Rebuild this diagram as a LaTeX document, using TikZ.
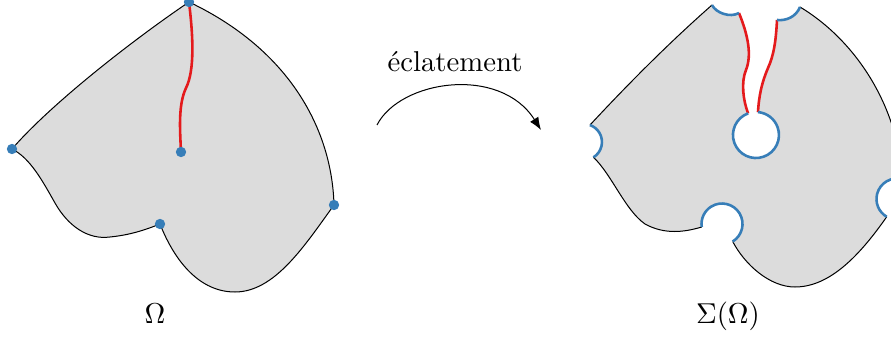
\documentclass[tikz,border=0pt]{standalone}
\usetikzlibrary{arrows.meta}
\definecolor{myblue}{HTML}{377EB8}
\definecolor{myred}{HTML}{E41A1C}
\definecolor{regiongrey}{HTML}{DCDCDC}
\begin{document}
\begin{tikzpicture}[x=0.348pt,y=-0.348pt,
  edge/.style={black,line width=0.35pt},
  cut/.style={myred,line width=0.9pt},
  rim/.style={myblue,line width=0.9pt},
  region/.style={fill=regiongrey},
  dot/.style={circle,fill=myblue,inner sep=0pt,minimum size=3.6pt},
  lbl/.style={inner sep=0pt}]
\clip (0,0) rectangle (891,340);
% ---------- left shape Omega ----------
\path[region] (189,2) .. controls (130,42) and (50,105) .. (12,149)
  .. controls (30,158) and (42,180) .. (55,203)
  .. controls (68,226) and (88,240) .. (110,237)
  .. controls (130,235) and (145,230) .. (160,224)
  .. controls (175,262) and (200,292) .. (235,292)
  .. controls (275,292) and (305,245) .. (334,205)
  .. controls (332,130) and (290,50) .. (189,2) -- cycle;
\draw[edge] (189,2) .. controls (130,42) and (50,105) .. (12,149)
  .. controls (30,158) and (42,180) .. (55,203)
  .. controls (68,226) and (88,240) .. (110,237)
  .. controls (130,235) and (145,230) .. (160,224)
  .. controls (175,262) and (200,292) .. (235,292)
  .. controls (275,292) and (305,245) .. (334,205)
  .. controls (332,130) and (290,50) .. (189,2);
\draw[cut] (189,2) .. controls (193,35) and (195,70) .. (186,88)
  .. controls (178,105) and (180,130) .. (181,152);
\node[dot] (pa) at (189,2) {};
\node[dot] (pb) at (12,149) {};
\node[dot] (pc) at (160,224) {};
\node[dot] (pd) at (334,205) {};
\node[dot] (pe) at (181,152) {};
\node[lbl] (om) at (155,314) {$\Omega$};
% ---------- arrow ----------
\coordinate (as) at (377,125);
\coordinate (at) at (541,130);
\draw[edge,-{Latex[length=4.4pt,width=3.4pt]}] (as) .. controls (400,80) and (500,65) .. (at);
\node[lbl] (ecl) at (455,62) {éclatement};
% ---------- right shape Sigma(Omega) ----------
\path[region] (712,5) .. controls (716,13) and (730,18) .. (739,13)
  .. controls (748,35) and (752,55) .. (746,70)
  .. controls (741,82) and (743,100) .. (748.1,113.4)
  arc[start angle=-110, end angle=-445, radius=23]
  .. controls (759,95) and (762,82) .. (768,68)
  .. controls (774,55) and (776,40) .. (777,20)
  .. controls (786,21) and (796,17) .. (800,7)
  .. controls (855,40) and (898,105) .. (902.3,179.2)
  arc[start angle=-75, end angle=-240, radius=20.5]
  .. controls (860,255) and (830,287) .. (795,287)
  .. controls (770,287) and (745,265) .. (732.7,241.5)
  arc[start angle=58.6, end angle=-188.5, radius=20.5]
  .. controls (685,232) and (665,235) .. (645,224)
  .. controls (625,210) and (612,175) .. (593.5,157.3)
  arc[start angle=58, end angle=-70.6, radius=18]
  .. controls (630,82) and (670,42) .. (712,5) -- cycle;
% black edges
\draw[edge] (800,7) .. controls (855,40) and (898,105) .. (902.3,179.2);
\draw[edge] (886.75,216.75) .. controls (860,255) and (830,287) .. (795,287)
  .. controls (770,287) and (745,265) .. (732.7,241.5);
\draw[edge] (701.7,227) .. controls (685,232) and (665,235) .. (645,224)
  .. controls (625,210) and (612,175) .. (593.5,157.3);
\draw[edge] (590,125) .. controls (630,82) and (670,42) .. (712,5);
% red cuts
\draw[cut] (739,13) .. controls (748,35) and (752,55) .. (746,70)
  .. controls (741,82) and (743,100) .. (748.1,113.4);
\draw[cut] (758,112.1) .. controls (759,95) and (762,82) .. (768,68)
  .. controls (774,55) and (776,40) .. (777,20);
% blue rims
\draw[rim] (712,5) .. controls (716,13) and (730,18) .. (739,13);
\draw[rim] (777,20) .. controls (786,21) and (796,17) .. (800,7);
\draw[rim] (748.1,113.4) arc[start angle=-110, end angle=-445, radius=23];
\draw[rim] (902.3,179.2) arc[start angle=-75, end angle=-240, radius=20.5];
\draw[rim] (732.7,241.5) arc[start angle=58.6, end angle=-188.5, radius=20.5];
\draw[rim] (593.5,157.3) arc[start angle=58, end angle=-70.6, radius=18];
\node[lbl] (sig) at (728,316) {$\Sigma(\Omega)$};
\end{tikzpicture}
\end{document}
